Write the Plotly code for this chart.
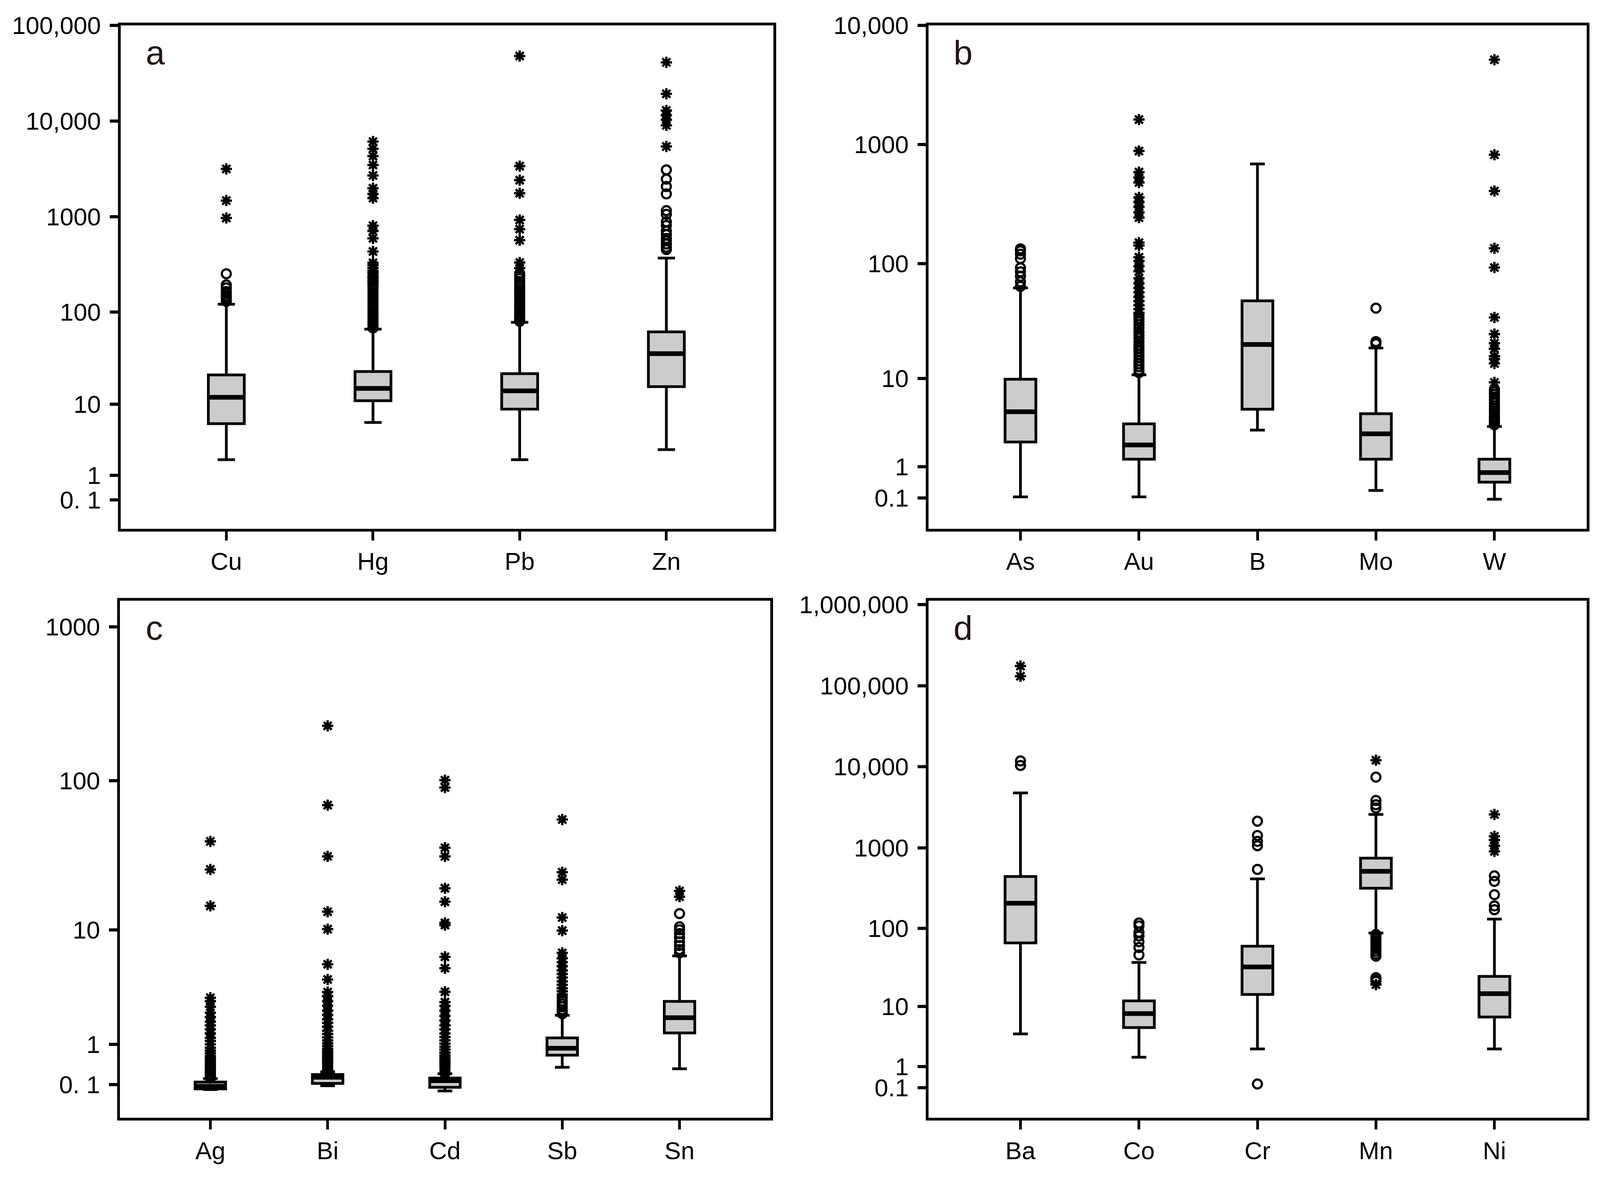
import numpy as np
import plotly.graph_objects as go

# ---------------- data (values in original units) ----------------
# Panel a
a_cats = ["Cu", "Hg", "Pb", "Zn"]
a_low = [1.9, 6.1, 1.9, 2.7]
a_q1 = [5.9, 11.0, 8.8, 15.8]
a_med = [12.0, 15.1, 14.2, 36.2]
a_q3 = [21.3, 23.2, 22.0, 61.8]
a_high = [121, 66, 78, 369]
a_circles = [
    [130, 140, 148, 157, 165, 180, 193, 253],
    [68, 71, 74, 77, 80, 84, 88, 92, 97, 102, 108, 114, 120, 127, 135, 143, 152, 162, 172, 184, 195],
    [80, 84, 88, 92, 97, 102, 108, 114, 120, 127, 135, 143, 152, 162, 172, 184, 196, 210, 225, 240, 255],
    [454, 480, 519, 560, 593, 650, 709, 810, 886, 1060, 1158, 1731, 2069, 2473, 3090],
]
a_stars = [
    [970, 1474, 3160],
    [205, 215, 228, 240, 255, 270, 290, 310, 330, 433, 594, 709, 806, 1563, 1730, 1985, 2700, 3470, 4300, 5130, 6100],
    [290, 332, 568, 742, 926, 1760, 2410, 3380, 47700],
    [5420, 9010, 10300, 11500, 12880, 19240, 41000],
]
a_ticks = [0.1, 1, 10, 100, 1000, 10000, 100000]
a_ticktext = ["0. 1", "1", "10", "100", "1000", "10,000", "100,000"]

# Panel b
b_cats = ["As", "Au", "B", "Mo", "W"]
b_low = [0.12, 0.12, 3.06, 0.27, 0.07]
b_q1 = [2.23, 1.32, 5.08, 1.32, 0.49]
b_med = [4.79, 2.05, 20.2, 2.78, 0.79]
b_q3 = [9.84, 3.58, 48.2, 4.58, 1.32]
b_high = [62.1, 10.8, 688, 18.8, 3.36]
b_circles = [
    [64, 70, 78, 85, 92, 110, 120, 128, 133],
    [11.3, 12, 12.8, 13.6, 14.5, 15.5, 16.5, 17.6, 18.8, 20, 21.5, 23, 24.5, 26, 28, 30, 32, 34, 36],
    [],
    [20.5, 21.4, 41.7],
    [3.5, 3.7, 3.9, 4.1, 4.3, 4.6, 4.9, 5.2, 5.5, 5.9, 6.3, 6.7, 7.1, 7.5, 7.9],
]
b_stars = [
    [],
    [38, 41, 44, 48, 52, 57, 62, 68, 75, 86, 95, 105, 113, 142, 150, 244, 270, 300, 330, 361, 481, 530, 588, 884, 1622],
    [],
    [],
    [9.2, 13.7, 15.0, 15.9, 18.5, 20.7, 24.9, 34.7, 92.5, 134.5, 408, 823, 5150],
]
b_ticks = [0.1, 1, 10, 100, 1000, 10000]
b_ticktext = ["0.1", "1", "10", "100", "1000", "10,000"]

# Panel c
c_cats = ["Ag", "Bi", "Cd", "Sb", "Sn"]
c_low = [0.02, 0.079, 0.0, 0.42, 0.39]
c_q1 = [0.03, 0.117, 0.054, 0.70, 1.37]
c_med = [0.07, 0.224, 0.164, 0.885, 1.97]
c_q3 = [0.14, 0.276, 0.211, 1.20, 2.79]
c_high = [0.2, 0.328, 0.29, 2.08, 6.46]
c_circles = [
    [0.21, 0.23, 0.25, 0.27],
    [0.34, 0.37, 0.4, 0.43, 0.46, 0.5],
    [0.3, 0.33, 0.36, 0.4, 0.44],
    [2.15, 2.25, 2.35, 2.5, 2.65, 2.8, 3.0],
    [6.8, 7.2, 7.7, 8.2, 8.8, 9.4, 10.0, 10.5, 13.0],
]
c_stars = [
    [0.29, 0.31, 0.34, 0.37, 0.4, 0.44, 0.48, 0.52, 0.57, 0.62, 0.68, 0.75, 0.82, 0.9, 1.0, 1.1, 1.2,
     1.35, 1.5, 1.65, 1.8, 2.0, 2.2, 2.5, 2.8, 3.0, 14.7, 26, 40],
    [0.54, 0.58, 0.63, 0.68, 0.74, 0.8, 0.87, 0.95, 1.03, 1.12, 1.22, 1.33, 1.45, 1.6, 1.75, 1.9, 2.1,
     2.3, 2.55, 2.8, 3.1, 3.35, 4.25, 5.58, 10.1, 13.4, 31.8, 69.3, 228],
    [0.48, 0.53, 0.58, 0.64, 0.7, 0.77, 0.85, 0.93, 1.02, 1.12, 1.23, 1.35, 1.5, 1.65, 1.85, 2.05, 2.3,
     2.55, 2.75, 3.37, 5.21, 6.35, 10.8, 11.2, 15.7, 19.4, 31.8, 36.3, 90.4, 101],
    [3.2, 3.4, 3.6, 3.85, 4.1, 4.4, 4.7, 5.0, 5.4, 5.8, 6.2, 6.8, 9.86, 12.2, 22.2, 24.9, 55.8],
    [17.0, 18.6],
]
c_ticks = [0.1, 1, 10, 100, 1000]
c_ticktext = ["0. 1", "1", "10", "100", "1000"]

# Panel d
d_cats = ["Ba", "Co", "Cr", "Mn", "Ni"]
d_low = [4.05, 1.6, 2.29, 87.7, 2.29]
d_q1 = [66.1, 5.05, 14.5, 316, 7.17]
d_med = [206, 8.0, 32.9, 512, 14.85]
d_q3 = [441, 11.9, 60, 745, 24.9]
d_high = [4750, 37.5, 413, 2580, 131]
d_circles = [
    [10380, 11800],
    [46.6, 57.9, 68.3, 80.5, 89.6, 107.6, 117],
    [0.216, 540, 1060, 1200, 1418, 2130],
    [21.5, 22.5, 24, 45, 48, 52, 56, 60, 64, 69, 74, 79, 84, 3100, 3400, 3840, 7450],
    [171, 191, 263, 384, 450],
]
d_stars = [
    [131000, 175000],
    [],
    [],
    [19.5, 12050],
    [902, 1060, 1246, 1385, 2580],
]
d_ticks = [0.1, 1, 10, 100, 1000, 10000, 100000, 1000000]
d_ticktext = ["0.1", "1", "10", "100", "1000", "10,000", "100,000", "1,000,000"]

letters = ["a", "b", "c", "d"]


def f(v):
    return np.log10(np.asarray(v, dtype=float) + 1.0)


W, H = 4137, 3029
FONT = "Liberation Sans, Arial, sans-serif"

# panel frames in page pixels: (left, right, top, bottom)
frames = [(301, 1972, 22, 1326), (2369, 4054, 22, 1326),
          (299, 1964, 1512, 2852), (2369, 4054, 1512, 2852)]

panels = [
    dict(cats=a_cats, low=a_low, q1=a_q1, med=a_med, q3=a_q3, high=a_high, circ=a_circles, star=a_stars,
         ticks=a_ticks, ticktext=a_ticktext, yr=[-0.258, 5.0], xr=[-0.72, 3.73], bw=0.245),
    dict(cats=b_cats, low=b_low, q1=b_q1, med=b_med, q3=b_q3, high=b_high, circ=b_circles, star=b_stars,
         ticks=b_ticks, ticktext=b_ticktext, yr=[-0.217, 4.0], xr=[-0.776, 4.779], bw=0.26),
    dict(cats=c_cats, low=c_low, q1=c_q1, med=c_med, q3=c_q3, high=c_high, circ=c_circles, star=c_stars,
         ticks=c_ticks, ticktext=c_ticktext, yr=[-0.174, 3.170], xr=[-0.771, 4.774], bw=0.26),
    dict(cats=d_cats, low=d_low, q1=d_q1, med=d_med, q3=d_q3, high=d_high, circ=d_circles, star=d_stars,
         ticks=d_ticks, ticktext=d_ticktext, yr=[-0.332, 6.052], xr=[-0.776, 4.779], bw=0.26),
]

fig = go.Figure()
layout = dict(width=W, height=H, margin=dict(l=0, r=0, t=0, b=0), paper_bgcolor="white",
              plot_bgcolor="white", showlegend=False, font=dict(family=FONT, color="black", size=63))
annotations = []

for k, p in enumerate(panels):
    L, R, T, B = frames[k]
    xdom = [L / W, R / W]
    ydom = [1 - B / H, 1 - T / H]
    sfx = "" if k == 0 else str(k + 1)
    xa, ya = "x" + sfx, "y" + sfx
    n = len(p["cats"])
    for i in range(n):
        fig.add_trace(go.Box(
            x=[i], q1=f([p["q1"][i]]), median=f([p["med"][i]]), q3=f([p["q3"][i]]),
            lowerfence=f([p["low"][i]]), upperfence=f([p["high"][i]]),
            width=p["bw"], whiskerwidth=0.48, fillcolor="#cccccc",
            line=dict(color="black", width=7), boxpoints=False,
            xaxis=xa, yaxis=ya, hoverinfo="skip"))
    # thick median bars
    mx, my = [], []
    for i in range(n):
        m = float(f(p["med"][i]))
        mx += [i - p["bw"] / 2, i + p["bw"] / 2, None]
        my += [m, m, None]
    fig.add_trace(go.Scatter(x=mx, y=my, mode="lines", line=dict(color="black", width=12),
                             xaxis=xa, yaxis=ya, hoverinfo="skip"))
    # outliers
    cx, cy, sx, sy = [], [], [], []
    for i in range(n):
        cx += [i] * len(p["circ"][i]); cy += list(f(p["circ"][i]))
        sx += [i] * len(p["star"][i]); sy += list(f(p["star"][i]))
    fig.add_trace(go.Scatter(x=cx, y=cy, mode="markers",
                             marker=dict(symbol="circle-open", size=23, color="black",
                                         line=dict(color="black", width=5.5)),
                             xaxis=xa, yaxis=ya, hoverinfo="skip"))
    fig.add_trace(go.Scatter(x=sx, y=sy, mode="markers",
                             marker=dict(symbol="asterisk-open", size=24, color="black",
                                         line=dict(color="black", width=6)),
                             xaxis=xa, yaxis=ya, hoverinfo="skip"))

    layout["xaxis" + sfx] = dict(domain=xdom, range=p["xr"], anchor=ya, tickmode="array",
                                 tickvals=list(range(n)), ticktext=p["cats"], ticks="outside",
                                 ticklen=23, tickwidth=7, tickcolor="black", showline=True,
                                 linewidth=7, linecolor="black", mirror=True, showgrid=False,
                                 zeroline=False, tickfont=dict(family=FONT, size=63, color="black"),
                                 ticklabelstandoff=0)
    layout["yaxis" + sfx] = dict(domain=ydom, range=p["yr"], anchor=xa, tickmode="array",
                                 tickvals=list(f(p["ticks"])), ticktext=p["ticktext"], ticks="outside",
                                 ticklen=21, tickwidth=8, tickcolor="black", showline=True,
                                 linewidth=7, linecolor="black", mirror=True, showgrid=False,
                                 zeroline=False, tickfont=dict(family=FONT, size=63, color="black"),
                                 ticklabelstandoff=10)
    annotations.append(dict(text=letters[k], xref=xa + " domain", yref=ya + " domain",
                            x=88 / (R - L),
                            y=1 - 71 / (B - T),
                            xanchor="center", yanchor="middle", showarrow=False,
                            font=dict(family=FONT, size=88, color="#231815")))

layout["annotations"] = annotations
fig.update_layout(**layout)
fig.write_html("out.html")
